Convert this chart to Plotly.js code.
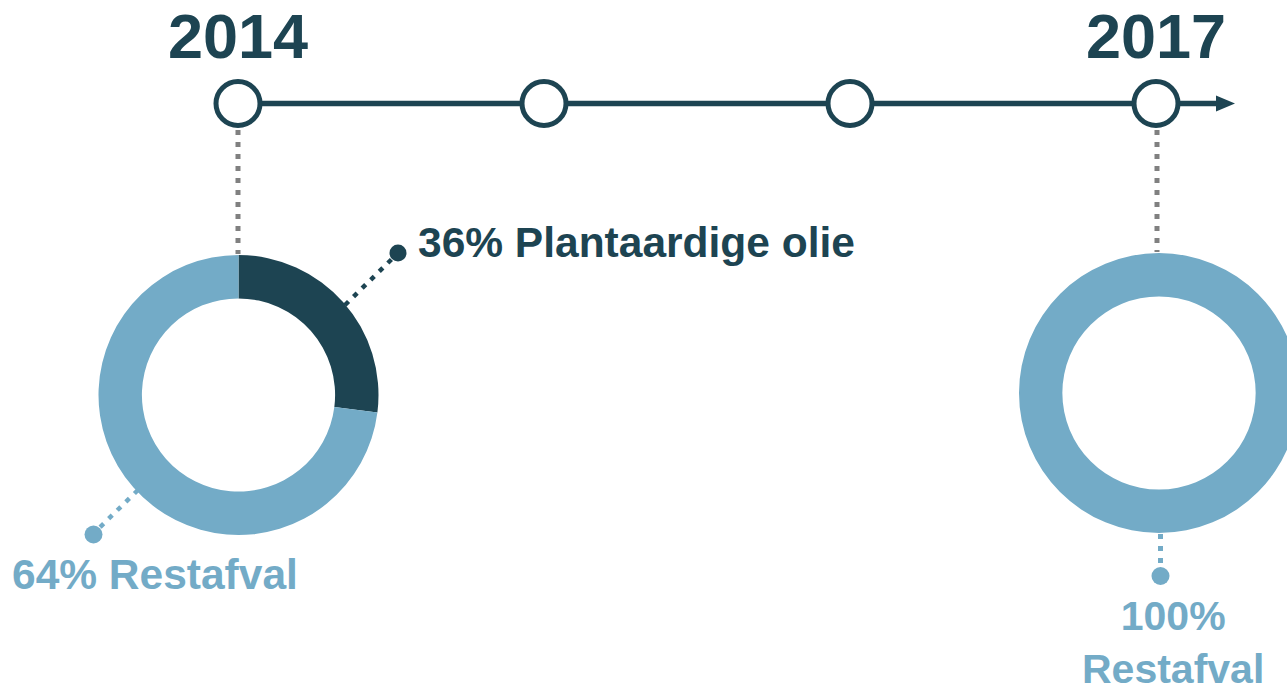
<!DOCTYPE html>
<html><head><meta charset="utf-8">
<script src="https://cdn.plot.ly/plotly-3.0.1.min.js"></script>
<style>html,body{margin:0;padding:0;overflow:hidden;background:#fff}#chart{width:1320px;height:689px}</style>
</head><body><div id="chart"></div>
<script>
// ---- data ----
const years = [2014, 2015, 2016, 2017];
const yearLabels = ['2014', '2017'];
const sliceLabels = ['Plantaardige olie', 'Restafval'];
const values2014 = [27, 73];      // shares as drawn in the ring
const values2017 = [0, 100];
const labelPct2014 = [36, 64];    // percentages printed in the labels
const labelPct2017 = [0, 100];

// ---- style ----
const DARK = '#1D4452', LIGHT = '#73ABC7', GRAY = '#808080';
const W = 1320, H = 689;
const FONT = 'Liberation Sans, Arial, sans-serif';
const yearPx0 = 238, yearStep = 306, lineY = 103.5;
const x2range = [years[0] - yearPx0 / yearStep, years[0] + (W - yearPx0) / yearStep];

function dom(cx, cy, r) {
  return { x: [(cx - r) / W, (cx + r) / W], y: [1 - (cy + r) / H, 1 - (cy - r) / H] };
}

const traces = [
  {
    type: 'scatter', mode: 'markers', x: years, y: years.map(() => lineY),
    xaxis: 'x2', yaxis: 'y', hoverinfo: 'skip', showlegend: false,
    marker: { symbol: 'circle', size: 44, color: '#fff', line: { color: DARK, width: 5 } }
  },
  {
    type: 'pie', values: values2014, labels: sliceLabels, sort: false, direction: 'clockwise',
    hole: 0.69, domain: dom(238.5, 395, 140), textinfo: 'none', hoverinfo: 'skip', showlegend: false,
    marker: { colors: [DARK, LIGHT], line: { width: 0 } }
  },
  {
    type: 'pie', values: values2017, labels: sliceLabels, sort: false, direction: 'clockwise',
    hole: 0.69, domain: dom(1159, 393, 140), textinfo: 'none', hoverinfo: 'skip', showlegend: false,
    marker: { colors: [DARK, LIGHT], line: { width: 0 } }
  }
];

const dots = '5px,7px';
const shapes = [
  { type: 'line', layer: 'below', x0: yearPx0, x1: 1222, y0: lineY, y1: lineY, line: { color: DARK, width: 5.5 } },
  { type: 'path', layer: 'below', path: `M1216,${lineY - 8} L1235,${lineY} L1216,${lineY + 8} Z`, fillcolor: DARK, line: { width: 0 } },
  { type: 'line', layer: 'below', x0: 238, x1: 238, y0: 130, y1: 254, line: { color: GRAY, width: 5, dash: dots } },
  { type: 'line', layer: 'below', x0: 1157, x1: 1157, y0: 130, y1: 252, line: { color: GRAY, width: 5, dash: dots } },
  // leaders
  { type: 'line', x0: 345, y0: 305, x1: 396, y1: 255, line: { color: DARK, width: 4.5, dash: dots } },
  { type: 'circle', x0: 389.5, x1: 406.5, y0: 244.5, y1: 261.5, fillcolor: DARK, line: { width: 0 } },
  { type: 'line', x0: 138, y0: 490, x1: 95, y1: 532, line: { color: LIGHT, width: 4.5, dash: dots } },
  { type: 'circle', x0: 84.5, x1: 102.5, y0: 525.5, y1: 543.5, fillcolor: LIGHT, line: { width: 0 } },
  { type: 'line', x0: 1160.5, y0: 534, x1: 1160.5, y1: 568, line: { color: LIGHT, width: 5, dash: dots } },
  { type: 'circle', x0: 1151.5, x1: 1169.5, y0: 567, y1: 585, fillcolor: LIGHT, line: { width: 0 } }
];

const annotations = [
  { xref: 'x2', yref: 'y', x: years[0], y: 36, text: '<b>' + yearLabels[0] + '</b>', showarrow: false,
    font: { family: FONT, size: 63, color: DARK }, xanchor: 'center', yanchor: 'middle' },
  { xref: 'x2', yref: 'y', x: years[3], y: 36, text: '<b>' + yearLabels[1] + '</b>', showarrow: false,
    font: { family: FONT, size: 63, color: DARK }, xanchor: 'center', yanchor: 'middle' },
  { xref: 'x', yref: 'y', x: 416, y: 242, text: '<b>' + labelPct2014[0] + '% ' + sliceLabels[0] + '</b>', showarrow: false,
    font: { family: FONT, size: 42.5, color: DARK }, xanchor: 'left', yanchor: 'middle' },
  { xref: 'x', yref: 'y', x: 155, y: 574, text: '<b>' + labelPct2014[1] + '% ' + sliceLabels[1] + '</b>', showarrow: false,
    font: { family: FONT, size: 42.5, color: LIGHT }, xanchor: 'center', yanchor: 'middle' },
  { xref: 'x', yref: 'y', x: 1173, y: 642, text: '<b>' + labelPct2017[1] + '%<br>' + sliceLabels[1] + '</b>', showarrow: false,
    font: { family: FONT, size: 41, color: LIGHT }, xanchor: 'center', yanchor: 'middle' }
];

const layout = {
  width: W, height: H, margin: { l: 0, r: 0, t: 0, b: 0 },
  paper_bgcolor: '#fff', plot_bgcolor: '#fff', showlegend: false,
  xaxis: { range: [0, W], visible: false, fixedrange: true },
  xaxis2: { range: x2range, visible: false, overlaying: 'x', fixedrange: true },
  yaxis: { range: [H, 0], visible: false, fixedrange: true },
  shapes: shapes, annotations: annotations
};

Plotly.newPlot('chart', traces, layout, { staticPlot: true, displayModeBar: false });
</script></body></html>
